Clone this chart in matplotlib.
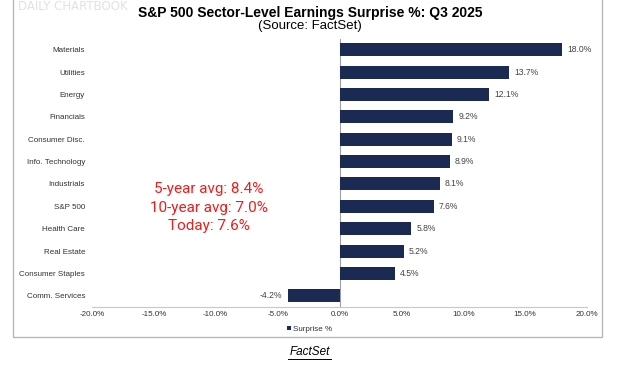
import matplotlib
matplotlib.use('Agg')
import matplotlib.pyplot as plt
from matplotlib.patches import Rectangle
from matplotlib.ticker import FuncFormatter

# Sector surprise values, top to bottom
sectors = ["Materials", "Utilities", "Energy", "Financials", "Consumer Disc.",
           "Info. Technology", "Industrials", "S&P 500", "Health Care",
           "Real Estate", "Consumer Staples", "Comm. Services"]
surprise = [18.0, 13.7, 12.1, 9.2, 9.1, 8.9, 8.1, 7.6, 5.8, 5.2, 4.5, -4.2]
x_ticks = [-20, -15, -10, -5, 0, 5, 10, 15, 20]
notes = ["5-year avg: 8.4%", "10-year avg: 7.0%", "Today: 7.6%"]

W, H = 624, 370
BAR = '#1b2a52'

fig = plt.figure(figsize=(W / 100, H / 100), dpi=100)
fig.patch.set_facecolor('white')

# outer frame of the pasted chart
fig.add_artist(Rectangle((13 / W, 1 - 337 / H), (602 - 13) / W, 337 / H + 0.01,
                         transform=fig.transFigure, fill=False,
                         edgecolor='#b8b8b8', linewidth=1.0))
fig.text(18 / W, 1 - 6 / H, "DAILY CHARTBOOK", fontsize=8.5, color='#e2e2e2',
         va='center', ha='left')

fig.text(310 / W, 1 - 12.5 / H, "S&P 500 Sector-Level Earnings Surprise %: Q3 2025",
         fontsize=10, fontweight='bold', ha='center', va='center',
         family='Liberation Sans')
fig.text(310 / W, 1 - 26 / H, "(Source: FactSet)", fontsize=9.5,
         ha='center', va='center', family='Liberation Sans')

ax = fig.add_axes([92 / W, 1 - 307 / H, (587 - 92) / W, (307 - 38.5) / H])
y = list(range(len(sectors)))
ax.barh(y, surprise, height=0.58, color=BAR, label='Surprise %', zorder=3)
ax.set_ylim(len(sectors) - 0.5, -0.5)
ax.set_xlim(-20, 20)
ax.set_xticks(x_ticks)
ax.xaxis.set_major_formatter(FuncFormatter(lambda v, p: f"{v:.1f}%"))
ax.set_yticks(y)
ax.set_yticklabels(sectors)
ax.tick_params(axis='both', length=0, labelsize=5.8, colors='#333333')
ax.tick_params(axis='y', pad=5)
ax.tick_params(axis='x', pad=3)
for t in ax.get_xticklabels() + ax.get_yticklabels():
    t.set_family('Liberation Sans')

for s in ['top', 'right', 'left']:
    ax.spines[s].set_visible(False)
ax.spines['bottom'].set_color('#c8c8c8')
ax.spines['bottom'].set_linewidth(0.8)
ax.axvline(0, color='#a0a0a0', linewidth=0.8, zorder=2)

for yi, v in zip(y, surprise):
    if v >= 0:
        ax.text(v + 0.4, yi, f"{v:.1f}%", va='center', ha='left',
                fontsize=6.2, color='#444444', family='Liberation Sans')
    else:
        ax.text(v - 0.4, yi, f"{v:.1f}%", va='center', ha='right',
                fontsize=6.2, color='#444444', family='Liberation Sans')

for i, line in enumerate(notes):
    fig.text(209 / W, 1 - (189 + i * 18.5) / H, line, color='#ee1c1c',
             fontsize=11, ha='center', va='center', family='Roboto')

leg = ax.legend(loc='upper center', bbox_to_anchor=(0.44, -0.055), frameon=False,
                fontsize=5.8, handlelength=0.5, handleheight=0.5,
                handletextpad=0.2, borderpad=0)
for t in leg.get_texts():
    t.set_family('Liberation Sans')
    t.set_color('#333333')

fig.text(310 / W, 1 - 352 / H, "FactSet", fontsize=8.5, style='italic',
         ha='center', va='center', family='Liberation Sans')
fig.add_artist(plt.Line2D([288 / W, 331 / W], [1 - 358.5 / H, 1 - 358.5 / H],
                          transform=fig.transFigure, color='black', linewidth=0.7))

fig.savefig('out.png', dpi=100)
